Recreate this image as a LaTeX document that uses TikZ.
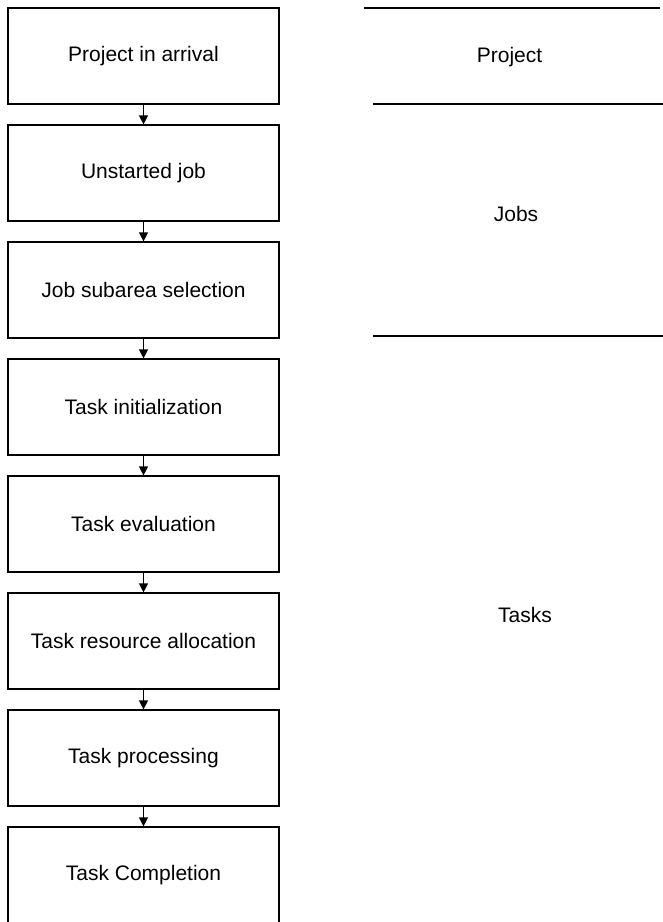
\documentclass[tikz,border=0pt]{standalone}
\usepackage{fontspec}
\setmainfont{Liberation Sans}
\usetikzlibrary{positioning, arrows.meta}

\tikzset{
  stagebox/.style={draw, line width=0.6pt, minimum width=135.5pt, minimum height=48pt, inner sep=0pt},
  flowarrow/.style={-{Triangle[length=4.5pt, width=4.5pt]}, line width=0.6pt},
  levelline/.style={line width=0.6pt},
}

\begin{document}
\begin{tikzpicture}[x=0.5pt, y=-0.5pt, font=\fontsize{10.5}{12}\selectfont]

    \useasboundingbox (0,0) rectangle (663,922);

    % Stages on the left
    \node[stagebox] (arrival)  at (143.5,56)  {Project in arrival};
    \node[stagebox] (unstart)  at (143.5,173) {Unstarted job};
    \node[stagebox] (subarea)  at (143.5,290) {Job subarea selection};
    \node[stagebox] (taskinit) at (143.5,407) {Task initialization};
    \node[stagebox] (taskeval) at (143.5,524) {Task evaluation};
    \node[stagebox] (taskres)  at (143.5,641) {Task resource allocation};
    \node[stagebox] (taskproc) at (143.5,758) {Task processing};
    \node[stagebox] (taskdone) at (143.5,875) {Task Completion};

    % Arrows between stages
    \draw[flowarrow] (arrival)  -- (unstart);
    \draw[flowarrow] (unstart)  -- (subarea);
    \draw[flowarrow] (subarea)  -- (taskinit);
    \draw[flowarrow] (taskinit) -- (taskeval);
    \draw[flowarrow] (taskeval) -- (taskres);
    \draw[flowarrow] (taskres)  -- (taskproc);
    \draw[flowarrow] (taskproc) -- (taskdone);

    % Level separators on the right
    \coordinate (sepAl) at (364,8);   \coordinate (sepAr) at (660,8);
    \coordinate (sepBl) at (373,104); \coordinate (sepBr) at (663,104);
    \coordinate (sepCl) at (373,336); \coordinate (sepCr) at (663,336);
    \draw[levelline] (sepAl) -- (sepAr);
    \draw[levelline] (sepBl) -- (sepBr);
    \draw[levelline] (sepCl) -- (sepCr);

    % Level names
    \node (project) at (509.5,57)  {Project};
    \node (jobs)    at (516,214)   {Jobs};
    \node (tasks)   at (525,615)   {Tasks};

\end{tikzpicture}
\end{document}
